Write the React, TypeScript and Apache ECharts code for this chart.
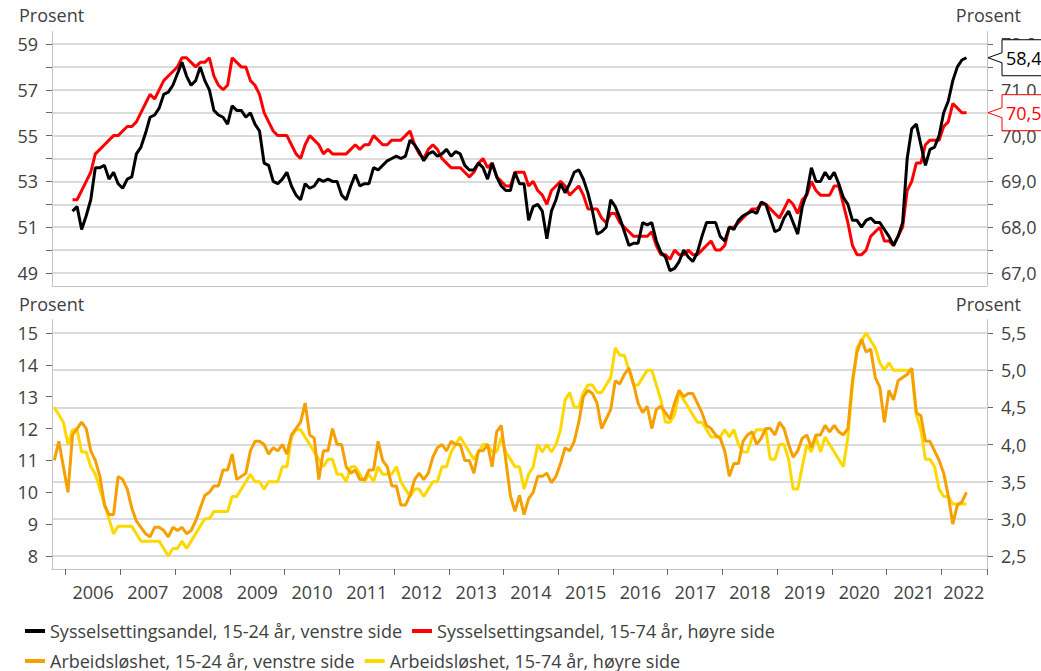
import React, { useEffect, useRef } from 'react';
import * as echarts from 'echarts';

const FONT = '"Open Sans", sans-serif';
const TEXT = '#404040';
const GRID = '#cfcfcf';
const AXIS = '#c4c4c4';
const TICK = '#666666';

// Monthly category axis: Oct 2005 – Oct 2022
const axisStartYear = 2005;
const axisStartMonth = 10;
const monthCount = 205;
const months: string[] = [];
for (let i = 0; i < monthCount; i++) {
  const t = axisStartYear * 12 + (axisStartMonth - 1) + i;
  const y = Math.floor(t / 12);
  const m = (t % 12) + 1;
  months.push(`${y}-${String(m).padStart(2, '0')}`);
}

const names = [
  'Sysselsettingsandel, 15-24 år, venstre side',
  'Sysselsettingsandel, 15-74 år, høyre side',
  'Arbeidsløshet, 15-24 år, venstre side',
  'Arbeidsløshet, 15-74 år, høyre side',
];

// Employment rate, 15-24 (left axis), Feb 2006 – Jun 2022
const employmentStart = '2006-02';
const employment1524 = [
  51.7, 51.9, 50.9, 51.5, 52.2, 53.6, 53.6, 53.7, 53.1, 53.4, 52.9,
  52.7, 53.1, 53.2, 54.2, 54.5, 55.1, 55.8, 55.9, 56.2, 56.8, 56.9, 57.2,
  57.7, 58.2, 57.6, 57.2, 57.4, 58.0, 57.4, 57.0, 56.1, 55.9, 55.8, 55.5,
  56.3, 56.1, 56.1, 55.8, 56.0, 55.5, 55.2, 53.8, 53.7, 53.0, 52.9, 53.1,
  53.4, 52.8, 52.4, 52.2, 52.9, 52.7, 52.8, 53.1, 53.0, 53.1, 53.0, 53.0,
  52.4, 52.2, 52.8, 53.3, 52.8, 52.9, 52.9, 53.6, 53.5, 53.7, 53.9, 54.0,
  54.1, 54.0, 54.1, 54.8, 54.6, 54.3, 53.9, 54.2, 54.3, 54.1, 54.2, 54.4,
  54.1, 54.3, 54.2, 53.7, 53.5, 53.5, 53.8, 53.6, 53.1, 53.8, 53.2, 52.8,
  52.6, 52.6, 53.4, 52.9, 52.9, 51.3, 51.9, 52.0, 51.7, 50.5, 51.7, 52.2,
  52.9, 52.5, 52.9, 53.4, 53.5, 53.1, 52.5, 51.7, 50.7, 50.8, 51.0, 52.2,
  51.9, 51.4, 50.8, 50.2, 50.3, 50.3, 51.2, 51.1, 51.2, 50.4, 49.9, 49.7,
  49.1, 49.2, 49.5, 50.0, 49.7, 49.5, 49.9, 50.6, 51.2, 51.2, 51.2, 50.6,
  50.4, 51.0, 50.9, 51.3, 51.5, 51.6, 51.7, 51.6, 52.1, 52.0, 51.4, 50.8,
  50.9, 51.4, 51.7, 51.2, 50.7, 51.9, 52.5, 53.6, 53.0, 53.0, 53.4, 53.1,
  53.4, 52.9, 52.3, 52.0, 51.3, 51.3, 51.0, 51.3, 51.4, 51.2, 51.2, 50.9,
  50.6, 50.2, 50.6, 51.2, 54.0, 55.3, 55.5, 54.6, 53.7, 54.4, 54.5, 55.0,
  56.0, 56.5, 57.4, 58.0, 58.3, 58.4,
];

// Employment rate, 15-74 (right axis), Feb 2006 – Jun 2022
const employment1574 = [
  68.6, 68.6, 68.8, 69.0, 69.2, 69.6, 69.7, 69.8, 69.9, 70.0, 70.0,
  70.1, 70.2, 70.2, 70.3, 70.5, 70.7, 70.9, 70.8, 71.0, 71.2, 71.3, 71.4,
  71.5, 71.7, 71.7, 71.6, 71.5, 71.6, 71.6, 71.7, 71.3, 71.1, 71.0, 71.1,
  71.7, 71.6, 71.5, 71.5, 71.2, 71.1, 70.9, 70.5, 70.3, 70.1, 70.0, 70.0,
  70.0, 69.8, 69.6, 69.5, 69.8, 70.0, 69.9, 69.8, 69.6, 69.7, 69.6, 69.6,
  69.6, 69.6, 69.7, 69.8, 69.7, 69.8, 69.8, 70.0, 69.9, 69.8, 69.8, 69.9,
  69.9, 69.9, 70.0, 70.1, 69.8, 69.6, 69.5, 69.7, 69.8, 69.7, 69.5, 69.4,
  69.3, 69.3, 69.3, 69.2, 69.1, 69.2, 69.4, 69.5, 69.3, 69.4, 69.1, 69.0,
  68.9, 68.9, 69.2, 69.2, 69.2, 68.9, 69.0, 68.8, 68.7, 68.5, 68.8, 68.9,
  69.0, 68.9, 68.7, 68.8, 68.9, 68.7, 68.4, 68.4, 68.4, 68.2, 68.1, 68.3,
  68.3, 68.1, 68.0, 67.9, 67.8, 67.8, 67.8, 67.8, 67.9, 67.6, 67.4, 67.4,
  67.3, 67.5, 67.4, 67.4, 67.5, 67.4, 67.4, 67.5, 67.6, 67.7, 67.5, 67.5,
  67.6, 68.0, 68.0, 68.1, 68.2, 68.3, 68.4, 68.4, 68.5, 68.5, 68.4, 68.3,
  68.2, 68.4, 68.6, 68.5, 68.3, 68.6, 68.7, 69.0, 68.8, 68.7, 68.7, 68.7,
  68.9, 68.9, 68.5, 68.1, 67.6, 67.4, 67.4, 67.5, 67.8, 67.9, 68.0, 67.7,
  67.7, 67.6, 67.8, 68.0, 68.8, 69.0, 69.4, 69.4, 69.8, 69.9, 69.9, 69.9,
  70.2, 70.3, 70.7, 70.6, 70.5, 70.5,
];

// Unemployment, 15-24 (left axis), Oct 2005 – Jun 2022
const unemploymentStart = '2005-10';
const unemployment1524 = [
  11.0, 11.6, 10.8,
  10.0, 11.8, 12.0, 12.2, 12.0, 11.3, 11.0, 10.5, 9.6, 9.3, 9.3, 10.5,
  10.4, 10.1, 9.5, 9.1, 8.9, 8.7, 8.6, 8.9, 8.9, 8.8, 8.6, 8.9,
  8.8, 8.9, 8.7, 8.8, 9.1, 9.5, 9.9, 10.0, 10.2, 10.2, 10.7, 10.7,
  11.2, 10.4, 10.5, 10.6, 11.3, 11.6, 11.6, 11.5, 11.2, 11.4, 11.3, 11.5,
  11.2, 11.8, 12.0, 12.2, 12.8, 11.8, 11.7, 10.4, 11.3, 11.3, 12.0, 11.5,
  11.5, 10.8, 10.6, 10.7, 10.4, 10.4, 10.7, 10.7, 11.6, 11.0, 10.8, 10.2,
  10.2, 9.6, 9.6, 9.9, 10.4, 10.6, 10.4, 10.6, 11.1, 11.4, 11.5, 11.3,
  11.6, 11.5, 11.5, 11.0, 11.0, 10.6, 11.3, 11.3, 11.5, 10.8, 11.9, 12.1,
  11.0, 9.9, 9.4, 9.9, 9.3, 9.8, 10.0, 10.5, 10.5, 10.6, 10.3, 10.5,
  10.9, 11.4, 11.3, 11.6, 12.2, 13.0, 13.2, 13.1, 12.8, 12.0, 12.3, 12.6,
  13.5, 13.4, 13.7, 13.9, 13.4, 12.8, 12.5, 12.7, 12.0, 12.6, 12.7, 12.5,
  12.3, 12.8, 13.2, 13.0, 13.1, 13.1, 12.8, 12.5, 12.1, 12.0, 11.8, 11.7,
  11.3, 10.5, 10.9, 10.9, 11.6, 11.8, 11.9, 11.5, 11.7, 12.0, 12.0, 11.8,
  12.2, 12.0, 11.5, 11.1, 11.3, 11.7, 11.8, 11.4, 11.8, 11.8, 12.1, 11.9,
  12.1, 11.9, 11.8, 12.0, 13.5, 14.4, 14.8, 14.4, 14.5, 13.6, 13.3, 12.2,
  13.2, 12.9, 13.5, 13.6, 13.7, 13.9, 12.5, 12.4, 11.6, 11.6, 11.3, 11.0,
  10.6, 9.9, 9.0, 9.6, 9.7, 10.0,
];

// Unemployment, 15-74 (right axis), Oct 2005 – Jun 2022
const unemployment1574 = [
  4.5, 4.4, 4.3,
  4.0, 4.2, 4.2, 3.9, 3.9, 3.7, 3.6, 3.4, 3.2, 3.0, 2.8, 2.9,
  2.9, 2.9, 2.9, 2.8, 2.7, 2.7, 2.7, 2.7, 2.7, 2.6, 2.5, 2.6,
  2.6, 2.7, 2.6, 2.7, 2.8, 2.9, 3.0, 3.0, 3.1, 3.1, 3.1, 3.1,
  3.3, 3.3, 3.4, 3.5, 3.6, 3.5, 3.5, 3.4, 3.5, 3.5, 3.5, 3.7,
  3.7, 4.1, 4.2, 4.2, 4.1, 4.0, 3.9, 3.8, 3.7, 3.8, 3.8, 3.6,
  3.6, 3.5, 3.7, 3.7, 3.6, 3.5, 3.6, 3.5, 3.7, 3.6, 3.6, 3.6,
  3.7, 3.5, 3.4, 3.3, 3.4, 3.4, 3.3, 3.4, 3.5, 3.5, 3.7, 3.7,
  3.9, 4.0, 4.1, 4.0, 3.9, 3.8, 3.9, 4.0, 4.0, 3.9, 3.9, 4.1,
  3.9, 3.8, 3.7, 3.7, 3.4, 3.6, 3.7, 4.0, 3.9, 4.0, 3.9, 4.0,
  4.2, 4.6, 4.7, 4.5, 4.5, 4.7, 4.8, 4.8, 4.7, 4.7, 4.8, 4.9,
  5.3, 5.2, 5.2, 5.0, 4.8, 4.8, 4.9, 5.0, 5.0, 4.8, 4.6, 4.3,
  4.3, 4.4, 4.7, 4.6, 4.5, 4.4, 4.3, 4.3, 4.2, 4.1, 4.1, 4.1,
  4.2, 4.1, 4.2, 4.0, 3.9, 3.9, 4.1, 4.2, 4.2, 4.2, 3.8, 3.8,
  4.0, 4.0, 3.8, 3.4, 3.4, 3.7, 4.0, 3.9, 4.1, 3.9, 4.1, 4.0,
  3.9, 3.8, 3.7, 4.1, 4.8, 5.3, 5.4, 5.5, 5.4, 5.3, 5.1, 5.0,
  5.1, 5.0, 5.0, 5.0, 5.0, 5.0, 4.4, 4.2, 3.8, 3.8, 3.7, 3.4,
  3.3, 3.3, 3.2, 3.2, 3.2, 3.2,
];

const colors = ['#000000', '#ff0000', '#f5a000', '#ffd800'];

function align(start: string, values: number[]) {
  const idx = months.indexOf(start);
  return months.map((_, i) => (i >= idx && i - idx < values.length ? values[i - idx] : null));
}

const comma = (v: number, d: number) => v.toFixed(d).replace('.', ',');
const isInt = (v: number) => Math.abs(v - Math.round(v)) < 1e-6;

const labelStyle = { fontSize: 18, color: TEXT, fontFamily: FONT };

export default function App() {
  const ref = useRef<HTMLDivElement>(null);

  useEffect(() => {
    if (!ref.current) return;
    const chart = echarts.init(ref.current, undefined, { renderer: 'svg' });

    const line = (i: number, xi: number, yi: number, start: string, values: number[], z: number) => ({
      name: names[i],
      type: 'line',
      xAxisIndex: xi,
      yAxisIndex: yi,
      data: align(start, values),
      symbol: 'none',
      showSymbol: false,
      clip: false,
      z,
      lineStyle: { color: colors[i], width: 3 },
      itemStyle: { color: colors[i] },
    });

    const option: any = {
      animation: false,
      textStyle: { fontFamily: FONT },
      grid: [
        { left: 52, right: 54, top: 44, height: 229 },
        { left: 52, right: 54, top: 333, height: 223 },
      ],
      xAxis: [
        {
          type: 'category', gridIndex: 0, data: months, boundaryGap: true, offset: 13,
          axisLine: { onZero: false, lineStyle: { color: AXIS, width: 1 } },
          axisTick: { show: false }, axisLabel: { show: false }, splitLine: { show: false },
        },
        {
          type: 'category', gridIndex: 1, data: months, boundaryGap: true, offset: 13,
          axisLine: { onZero: false, lineStyle: { color: AXIS, width: 1 } },
          axisTick: {
            show: true, length: 6, lineStyle: { color: TICK },
            interval: (_i: number, v: string) => v.endsWith('-01'),
          },
          axisLabel: {
            ...labelStyle, margin: 14,
            interval: (_i: number, v: string) => v.endsWith('-07'),
            formatter: (v: string) => (v.startsWith('2022') ? '{last|2022}' : v.slice(0, 4)),
            padding: [0, 4.5, 0, 0],
            rich: { last: { ...labelStyle, padding: [0, 10, 0, 0] } },
          },
          splitLine: { show: false },
        },
      ],
      yAxis: [
        {
          type: 'value', gridIndex: 0, position: 'left', min: 49, max: 59, interval: 1,
          axisLine: { show: false },
          axisTick: { show: true, length: 6, lineStyle: { color: TICK } },
          axisLabel: { ...labelStyle, margin: 14, formatter: (v: number) => (Math.round(v) % 2 === 1 ? String(Math.round(v)) : '') },
          splitLine: { show: true, lineStyle: { color: GRID, width: 1.5 } },
        },
        {
          type: 'value', gridIndex: 0, position: 'right', min: 67, max: 72, interval: 0.5,
          axisLine: { show: false },
          axisTick: { show: true, length: 6, lineStyle: { color: TICK } },
          axisLabel: { ...labelStyle, margin: 14, formatter: (v: number) => (isInt(v) ? comma(v, 1) : '') },
          splitLine: { show: false },
        },
        {
          type: 'value', gridIndex: 1, position: 'left', min: 8, max: 15, interval: 1,
          axisLine: { show: false },
          axisTick: { show: true, length: 6, lineStyle: { color: TICK } },
          axisLabel: { ...labelStyle, margin: 14, formatter: (v: number) => String(Math.round(v)) },
          splitLine: { show: false },
        },
        {
          type: 'value', gridIndex: 1, position: 'right', min: 2.5, max: 5.5, interval: 0.5,
          axisLine: { show: false },
          axisTick: { show: true, length: 6, lineStyle: { color: TICK } },
          axisLabel: { ...labelStyle, margin: 14, formatter: (v: number) => comma(v, 1) },
          splitLine: { show: true, lineStyle: { color: GRID, width: 1.5 } },
        },
      ],
      legend: [
        {
          data: [{ name: names[0], icon: 'rect' }, { name: names[1], icon: 'rect' }],
          left: 20, top: 617, itemWidth: 20, itemHeight: 4, itemGap: 10,
          textStyle: { ...labelStyle },
        },
        {
          data: [{ name: names[2], icon: 'rect' }, { name: names[3], icon: 'rect' }],
          left: 20, top: 647, itemWidth: 20, itemHeight: 4, itemGap: 10,
          textStyle: { ...labelStyle },
        },
      ],
      series: [
        line(0, 0, 0, employmentStart, employment1524, 4),
        line(1, 0, 1, employmentStart, employment1574, 3),
        line(2, 1, 2, unemploymentStart, unemployment1524, 4),
        line(3, 1, 3, unemploymentStart, unemployment1574, 3),
      ],
    };

    chart.setOption(option);

    const lastB = employment1524[employment1524.length - 1];
    const lastR = employment1574[employment1574.length - 1];
    const yB = chart.convertToPixel({ yAxisIndex: 0 } as any, lastB) as number;
    const yR = chart.convertToPixel({ yAxisIndex: 1 } as any, lastR) as number;

    const callout = (id: string, y: number, color: string, text: string) => ({
      type: 'group', id, z: 100,
      children: [
        {
          type: 'polygon', z: 100,
          shape: { points: [[988, y], [1002, y - 5], [1002, y - 18], [1070, y - 18], [1070, y + 18], [1002, y + 18], [1002, y + 5]] },
          style: { fill: '#ffffff', stroke: color, lineWidth: 1 },
        },
        {
          type: 'text', z: 101,
          style: { text, x: 1006, y, fill: color, font: `18px ${FONT}`, textVerticalAlign: 'middle' },
        },
      ],
    });

    const title = (id: string, x: number, y: number, align: string) => ({
      type: 'text', id, z: 50,
      style: { text: 'Prosent', x, y, fill: TEXT, font: `18px ${FONT}`, textAlign: align, textVerticalAlign: 'middle' },
    });

    const vline = (id: string, x: number, y1: number, y2: number) => ({
      type: 'line', id, z: 5,
      shape: { x1: x, y1, x2: x, y2 },
      style: { stroke: AXIS, lineWidth: 1 },
    });

    chart.setOption({
      graphic: [
        title('t1', 19, 15, 'left'),
        title('t2', 1021, 15, 'right'),
        title('t3', 19, 304, 'left'),
        title('t4', 1021, 304, 'right'),
        vline('l1', 52.5, 31, 286),
        vline('l2', 987.5, 31, 286),
        vline('l3', 52.5, 319, 569),
        vline('l4', 987.5, 319, 569),
        callout('c1', yB, '#000000', comma(lastB, 1)),
        callout('c2', yR, '#ff0000', comma(lastR, 1)),
      ],
    });

    return () => chart.dispose();
  }, []);

  return (
    <div
      ref={ref}
      style={{ position: 'fixed', left: 0, top: 0, width: 1041, height: 671, background: '#ffffff' }}
    />
  );
}
